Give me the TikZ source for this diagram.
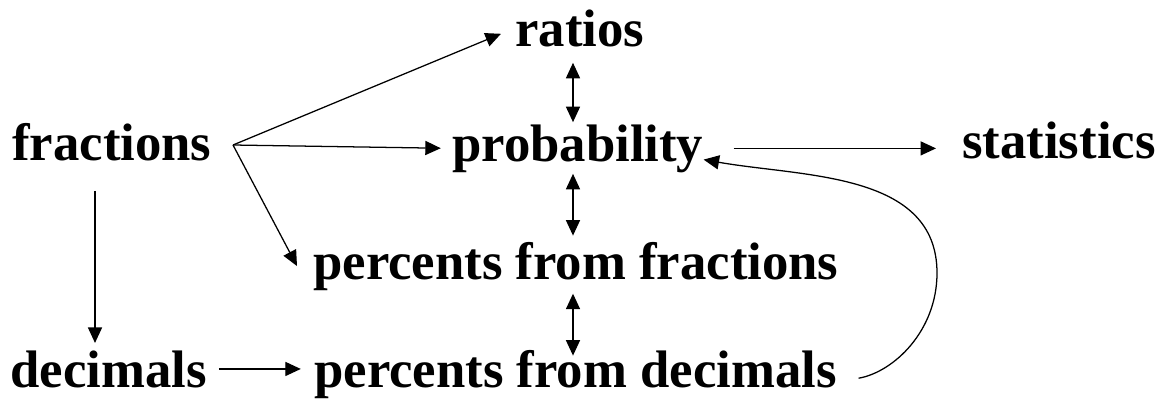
\documentclass[tikz,border=0pt]{standalone}
\usepackage{fontspec}
\setmainfont{Liberation Serif}
\usetikzlibrary{arrows.meta}

\tikzset{
  topic/.style={font=\fontsize{37.5}{44}\selectfont\bfseries, inner sep=0pt, anchor=base west},
  link/.style={-{Triangle[length=11pt,width=10pt]}, line width=0.9pt},
  twoway/.style={{Triangle[length=11pt,width=10pt]}-{Triangle[length=11pt,width=10pt]}, line width=0.9pt},
}

\begin{document}
\begin{tikzpicture}[x=0.025cm, y=-0.025cm]
\useasboundingbox (0,0) rectangle (1158,402);

% topics
\node[topic] (ratios) at (515,46) {ratios};
\node[topic] (fractions) at (12,160) {fractions};
\node[topic] (probability) at (452,161) {probability};
\node[topic] (statistics) at (962,158) {statistics};
\node[topic] (pctfrac) at (313,279) {percents from fractions};
\node[topic] (decimals) at (10,387) {decimals};
\node[topic] (pctdec) at (314,387) {percents from decimals};

% helper points
\coordinate (fan) at (233,145);
\coordinate (midaxis) at (573,0);
\coordinate (leftaxis) at (95,0);
\coordinate (loop) at (937,273);

% fan out of fractions
\draw[link, shorten >=0.38cm] (fan) -- (ratios.west);
\draw[link, shorten >=0.28cm] (fan) -- (probability.west);
\draw[link] (fan) -- ([xshift=-0.4cm]pctfrac.west);

% fractions down to decimals
\draw[link, shorten <=0.75cm, shorten >=0.18cm] (fractions.south -| leftaxis) -- (decimals.north -| leftaxis);
\draw[link, shorten <=0.3cm, shorten >=0.33cm] (decimals.east) -- (decimals.east -| pctdec.west);

% the middle column
\draw[twoway, shorten <=0.4cm, shorten >=0.05cm] (ratios.south -| midaxis) -- (probability.north -| midaxis);
\draw[twoway, shorten <=0.03cm, shorten >=0.15cm] (probability.south -| midaxis) -- (pctfrac.north -| midaxis);
\draw[twoway, shorten <=0.08cm, shorten >=-0.15cm] (pctfrac.south -| midaxis) -- (pctdec.north -| midaxis);

% on to statistics
\draw[link, shorten <=0.75cm, shorten >=0.65cm] (probability.east) -- (probability.east -| statistics.west);

% back up from percents from decimals
\draw[link, shorten <=0.55cm] ([yshift=-0.2cm]pctdec.east) to[out=10,in=-90] (loop) to[out=90,in=-10] ([yshift=-0.28cm]probability.east);

\end{tikzpicture}
\end{document}
